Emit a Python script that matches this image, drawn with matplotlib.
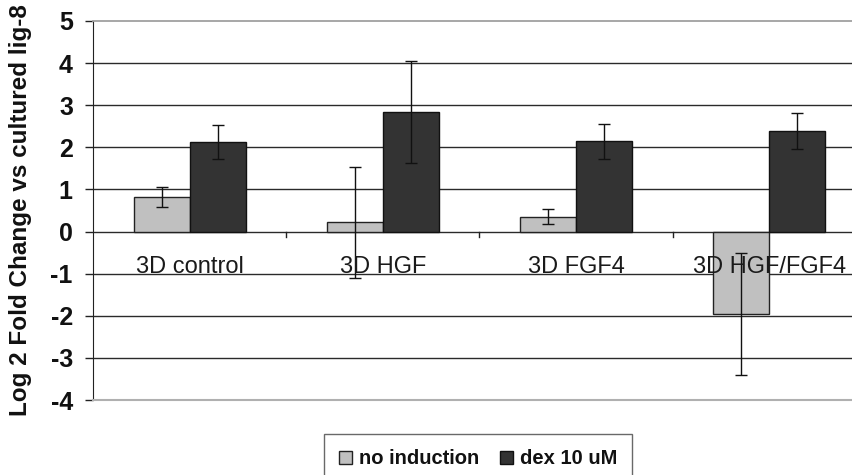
import matplotlib
matplotlib.use("Agg")
import matplotlib.pyplot as plt
import numpy as np
from matplotlib.patches import Patch

categories = ["3D control", "3D HGF", "3D FGF4", "3D HGF/FGF4"]
series_names = ["no induction", "dex 10 uM"]
no_induction = [0.82, 0.22, 0.35, -1.96]
no_induction_err = [0.23, 1.32, 0.18, 1.45]
dex = [2.12, 2.84, 2.14, 2.38]
dex_err = [0.40, 1.22, 0.41, 0.43]
yticks = [-4, -3, -2, -1, 0, 1, 2, 3, 4, 5]

plt.rcParams['font.family'] = ['Liberation Sans', 'DejaVu Sans']

fig = plt.figure(figsize=(8.53, 4.75), dpi=100)
ax = fig.add_axes([93/853, 1-400/475, 773/853, 379/475])

x = np.arange(len(categories))
w = 0.29
light = "#c0c0c0"
dark = "#333333"

for yv in yticks:
    if yv in (-4, 5):
        continue
    ax.axhline(yv, color="#2a2a2a", lw=1.0, zorder=1)

ax.bar(x - w/2, no_induction, w, color=light, edgecolor="#222222", lw=1.0, zorder=2)
ax.bar(x + w/2, dex, w, color=dark, edgecolor="#111111", lw=1.0, zorder=2)
ax.errorbar(x - w/2, no_induction, yerr=no_induction_err, fmt='none', ecolor="#111111",
            elinewidth=1.0, capsize=4, capthick=1.0, zorder=3)
ax.errorbar(x + w/2, dex, yerr=dex_err, fmt='none', ecolor="#111111",
            elinewidth=1.0, capsize=4, capthick=1.0, zorder=3)

ax.set_xlim(-0.5, len(categories) - 0.5)
ax.set_ylim(-4, 5)
ax.set_yticks(yticks)
ax.set_yticklabels([str(v) for v in yticks], fontsize=18, fontweight='bold', color="#111111")
ax.tick_params(axis='y', length=6, width=1.0, pad=8.5, color="#222222")

ax.spines['top'].set_visible(True)
ax.spines['top'].set_color("#a0a0a0")
ax.spines['top'].set_linewidth(1.3)
ax.spines['right'].set_visible(False)
ax.spines['left'].set_color("#222222")
ax.spines['bottom'].set_color("#b0b0b0")
ax.spines['bottom'].set_linewidth(1.5)

# category ticks on zero line
ax.set_xticks([])
for b in np.arange(0.5, len(categories) - 0.5, 1.0):
    ax.plot([b, b], [0, -0.12], color="#222222", lw=1.0, zorder=2, clip_on=False)
for xi, c in zip(x, categories):
    ax.text(xi, -0.85, c, ha='center', va='center', fontsize=17, color="#1a1a1a", zorder=4)

ax.set_ylabel("Log 2 Fold Change vs cultured lig-8", fontsize=17.5, fontweight='bold', color="#111111")
ax.yaxis.set_label_coords((32 - 93) / 773, 0.5)

handles = [Patch(facecolor=light, edgecolor="#222222"), Patch(facecolor=dark, edgecolor="#111111")]
leg = fig.legend(handles, series_names, loc='center', bbox_to_anchor=(478/853, 1-459/475),
                 ncol=2, frameon=True, fancybox=False,
                 prop={'weight': 'bold', 'size': 14.5}, handlelength=0.65, handleheight=0.65,
                 handletextpad=0.35, columnspacing=1.0, borderpad=0.75, borderaxespad=0)
leg.get_frame().set_edgecolor("#444444")
leg.get_frame().set_linewidth(1.0)
for t in leg.get_texts():
    t.set_color("#111111")

fig.savefig("out.png", dpi=100)
